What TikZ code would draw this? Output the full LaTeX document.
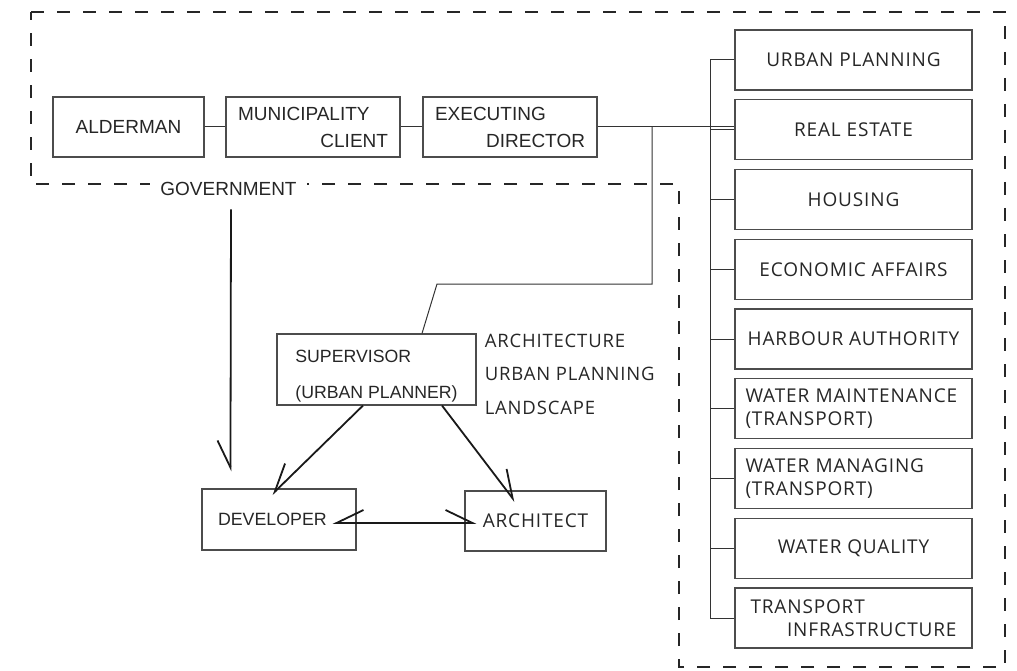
\documentclass[tikz,border=0pt]{standalone}
\usepackage{fontspec}
\setmainfont{Liberation Sans}
\newfontfamily\wide[LetterSpace=4.5]{Open Sans}
\usetikzlibrary{arrows.meta,positioning,calc}

\begin{document}
\begin{tikzpicture}[x=1pt, y=-1pt,
  every node/.style = {text=black!85},
  box/.style = {shape=rectangle, draw=black!70, line width=1.1pt,
    minimum height=60pt, font=\fontsize{19}{27}\selectfont},
  dept/.style = {box, minimum width=237pt, font=\wide\fontsize{19}{23}\selectfont},
  link/.style = {draw=black!80, line width=1pt},
  arr/.style = {draw=black!90, line width=1.8pt},
  barbL/.tip = {Straight Barb[left, length=27pt, width=26pt]},
  barbR/.tip = {Straight Barb[right, length=27pt, width=26pt]},
  zone/.style = {draw=black!85, line width=2pt, dash pattern=on 13pt off 13pt}]
  \useasboundingbox (0,0) rectangle (1017,671);

  % government / departments boundary
  \draw[zone] (31,12) -- (1005,12) -- (1005,667) -- (679,667)
    -- (679,184) -- (31,184) -- cycle;
  \node[fill=white, inner xsep=10pt, font=\fontsize{19}{22}\selectfont]
    (gov) at (228.5,189) {GOVERNMENT};

  % top row
  \node[box, minimum width=151pt] (ald) at (128.5,127) {ALDERMAN};
  \node[box, align=left, text width=150pt, inner xsep=12pt] (cli) at (313,127)
    {MUNICIPALITY\\\hspace*{\fill}CLIENT};
  \node[box, align=left, text width=150pt, inner xsep=12pt] (dir) at (510,127)
    {EXECUTING\\\hspace*{\fill}DIRECTOR};

  % departments
  \node[dept] (r1) at (853.5,60) {URBAN PLANNING};
  \node[dept] (r2) at (853.5,129.75) {REAL ESTATE};
  \node[dept] (r3) at (853.5,199.5) {HOUSING};
  \node[dept] (r4) at (853.5,269.25) {ECONOMIC AFFAIRS};
  \node[dept] (r5) at (853.5,339) {HARBOUR AUTHORITY};
  \node[dept, align=left, text width=216pt, inner xsep=10.5pt] (r6) at (853.5,408.75)
    {WATER MAINTENANCE\\(TRANSPORT)};
  \node[dept, align=left, text width=216pt, inner xsep=10.5pt] (r7) at (853.5,478.5)
    {WATER MANAGING\\(TRANSPORT)};
  \node[dept] (r8) at (853.5,548.25) {WATER QUALITY};
  \node[dept, align=left, text width=206pt, inner xsep=15.5pt] (r9) at (853.5,618)
    {TRANSPORT\\\hspace*{\fill}INFRASTRUCTURE};

  % project team
  \node[box, minimum width=199pt, minimum height=71pt, align=left,
    text height=62pt, inner ysep=2pt,
    font=\fontsize{17.7}{36}\selectfont] (sup) at (376.5,369.5)
    {SUPERVISOR\\(URBAN PLANNER)};
  \node[right=8pt of sup.north east, anchor=north west, inner sep=0pt, align=left,
    font=\wide\fontsize{18.5}{33.5}\selectfont] (fields)
    {ARCHITECTURE\\URBAN PLANNING\\LANDSCAPE};
  \node[box, minimum height=61pt, align=left, text width=122pt, inner xsep=16pt,
    font=\fontsize{17.8}{20}\selectfont] (dev) at (279,519.5) {DEVELOPER};
  \node[box, minimum width=141pt, font=\wide\fontsize{19}{22}\selectfont]
    (arch) at (535.5,521) {ARCHITECT};

  % lines
  \draw[link] (ald) -- (cli);
  \draw[link] (cli) -- (dir);
  \draw[link] (dir.east) -- (dir.east -| r2.west);
  \coordinate (jn) at (652,127);
  \coordinate (knee) at (437,284);
  \draw[link] (jn) |- (knee) -- ([xshift=45.5pt]sup.north);
  \draw[link] ([xshift=-24pt]r1.west) -- ([xshift=-24pt]r9.west);
  \foreach \i in {1,...,9}
    \draw[link] (r\i.west) -- ++(-24,0);

  % arrows
  \draw[arr, -{barbR}] ([xshift=2.5pt,yshift=-10pt]gov.south)
    -- ([xshift=29pt,yshift=17pt]dev.north west);
  \draw[arr, -{barbR}] ($(sup.south)+(-13.5,0)$) -- ($(dev.north)+(-7,6)$);
  \draw[arr, -{barbL}] ($(sup.south)+(65.5,0)$) -- ($(arch.north)+(-20.5,11)$);
  \draw[arr, {barbR}-{barbL}] ($(dev.east)+(-24,3.5)$) -- ($(arch.west)+(12,2)$);
\end{tikzpicture}
\end{document}
